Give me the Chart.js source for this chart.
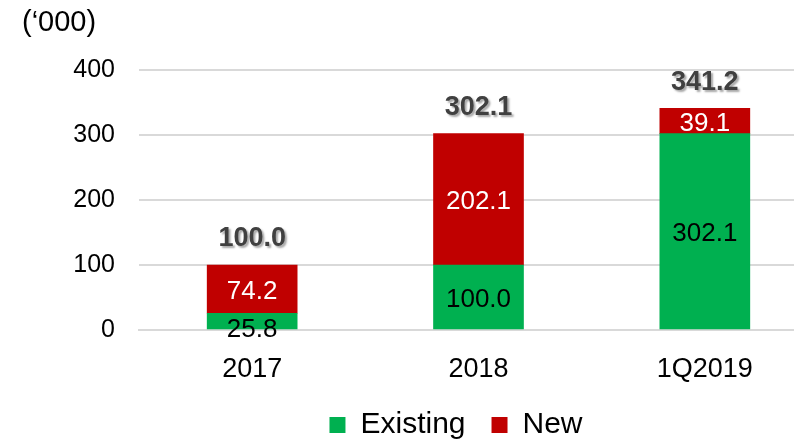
<!DOCTYPE html>
<html>
<head>
<meta charset="utf-8">
<script src="https://cdn.jsdelivr.net/npm/chart.js@4/dist/chart.umd.min.js"></script>
<style>
  html, body { margin: 0; padding: 0; background: #fff; overflow: hidden; }
  #wrap { position: relative; width: 820px; height: 439px; }
</style>
</head>
<body>
<div id="wrap"><canvas id="c"></canvas></div>
<script>
const categories = ['2017', '2018', '1Q2019'];
const existingValues = [25.8, 100.0, 302.1];
const newValues = [74.2, 202.1, 39.1];
const totalValues = [100.0, 302.1, 341.2];
const yTicks = [0, 100, 200, 300, 400];
const unitLabel = '(\u2018000)';

const FONT = '"Liberation Sans", Arial, sans-serif';

const labelPlugin = {
  id: 'labels',
  afterLayout(chart) {
    const lg = chart.legend;
    if (!lg) return;
    const w = lg.right - lg.left;
    const h = lg.bottom - lg.top;
    lg.left = 456 - w / 2;
    lg.right = lg.left + w;
    lg.top = 384;
    lg.bottom = lg.top + h;
  },
  afterDatasetsDraw(chart) {
    const ctx = chart.ctx;
    ctx.save();
    ctx.textAlign = 'center';
    ctx.textBaseline = 'middle';
    ctx.font = '26px ' + FONT;
    chart.data.datasets.forEach((ds, di) => {
      const meta = chart.getDatasetMeta(di);
      meta.data.forEach((bar, i) => {
        const top = Math.min(bar.y, bar.base);
        const bot = Math.max(bar.y, bar.base);
        let y = (top + bot) / 2 + 2;
        if (bot - top < 20) y = Math.max(y, bot);
        ctx.fillStyle = ds.labelColor;
        ctx.fillText(ds.data[i].toFixed(1), bar.x, y + 1);
      });
    });
    const yScale = chart.scales.y;
    const xScale = chart.scales.x;
    ctx.font = 'bold 27px ' + FONT;
    ctx.fillStyle = '#404040';
    ctx.shadowColor = 'rgba(0,0,0,0.35)';
    ctx.shadowOffsetX = 2;
    ctx.shadowOffsetY = 2;
    ctx.shadowBlur = 2;
    totalValues.forEach((t, i) => {
      ctx.fillText(t.toFixed(1), xScale.getPixelForValue(i), yScale.getPixelForValue(t) - 26);
    });
    ctx.restore();
    ctx.save();
    ctx.font = '29px ' + FONT;
    ctx.fillStyle = '#000';
    ctx.textAlign = 'left';
    ctx.textBaseline = 'middle';
    ctx.fillText(unitLabel, 22, 23);
    ctx.restore();
  }
};

new Chart(document.getElementById('c'), {
  type: 'bar',
  data: {
    labels: categories,
    datasets: [
      { label: 'Existing', data: existingValues, backgroundColor: '#00B050', labelColor: '#000000' },
      { label: 'New', data: newValues, backgroundColor: '#C00000', labelColor: '#FFFFFF' }
    ]
  },
  options: {
    responsive: true,
    maintainAspectRatio: false,
    animation: false,
    layout: { padding: { left: 72, top: 70, right: 2, bottom: -12 } },
    datasets: { bar: { barThickness: 90 } },
    plugins: {
      tooltip: { enabled: false },
      legend: {
        position: 'bottom',
        labels: {
          font: { family: FONT, size: 30, lineHeight: 1 },
          color: '#000',
          boxWidth: 16,
          boxHeight: 16,
          padding: 26
        }
      }
    },
    scales: {
      x: {
        stacked: true,
        afterFit(scale) { scale.height = 55; },
        grid: { display: false, drawTicks: false },
        border: { display: true, color: '#d9d9d9', width: 2 },
        ticks: { font: { family: FONT, size: 27 }, color: '#000', padding: 23 }
      },
      y: {
        stacked: true,
        min: 0,
        max: 400,
        afterBuildTicks(scale) { scale.ticks = yTicks.map(v => ({ value: v })); },
        afterFit(scale) { scale.width = 67; },
        grid: { color: '#d9d9d9', lineWidth: 2, drawTicks: false },
        border: { display: false },
        ticks: { font: { family: FONT, size: 25 }, color: '#000', padding: 24 }
      }
    }
  },
  plugins: [labelPlugin]
});
</script>
</body>
</html>
